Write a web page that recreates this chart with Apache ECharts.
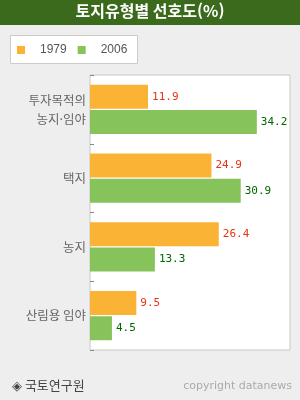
<!DOCTYPE html>
<html lang="ko">
<head>
  <meta charset="UTF-8">
  <title>토지유형별 선호도</title>
  <script src="https://cdn.jsdelivr.net/npm/echarts@6/dist/echarts.min.js"></script>
  <style>
    html, body { margin: 0; padding: 0; background: #eeeeee; }
  </style>
</head>
<body>
<div id="main" style="width: 300px;height:400px;"></div>
<script type="text/javascript">

var categories = ['투자목적의\n농지·임야', '택지', '농지', '산림용 임야'];
var data1979 = [11.9, 24.9, 26.4, 9.5];
var data2006 = [34.2, 30.9, 13.3, 4.5];

var myChart = echarts.init(document.getElementById('main'));

var font = '"Noto Sans CJK KR", sans-serif';

var option = {
  backgroundColor: '#eeeeee',
  animation: false,
  graphic: [
    { type: 'rect', left: 0, top: 0, shape: { width: 300, height: 25 }, style: { fill: '#3c6a1c' } },
    { type: 'text', left: 'center', top: 3, style: { text: '토지유형별 선호도(%)', fill: '#fff', font: 'bold 16px ' + font } },
    { type: 'rect', left: 10, top: 35, shape: { width: 127, height: 28 }, style: { fill: '#fff', stroke: '#cccccc', lineWidth: 1 } },
    { type: 'text', left: 12, top: 379, style: { text: '◈ 국토연구원', fill: '#444', font: '13px ' + font } },
    { type: 'text', right: 8, top: 381, style: { text: 'copyright datanews', fill: '#aaaaaa', font: '11px "DejaVu Sans", sans-serif' } }
  ],
  legend: {
    left: 12, top: 39,
    icon: 'rect',
    itemWidth: 8, itemHeight: 8,
    itemGap: 11,
    textStyle: { color: '#555', fontSize: 12, fontFamily: '"Liberation Sans Narrow", "Liberation Sans", sans-serif', padding: [0, 0, 0, 10] },
    data: ['1979', '2006']
  },
  grid: {
    left: 90, right: 10, top: 75, bottom: 50,
    show: true, backgroundColor: '#fff', borderColor: '#c8c8c8', borderWidth: 1
  },
  xAxis: {
    type: 'value', min: 0, max: 41,
    show: false
  },
  yAxis: {
    type: 'category',
    data: categories,
    inverse: true,
    axisLine: { show: false },
    axisTick: { show: true, inside: true, length: 4, lineStyle: { color: '#888' } },
    axisLabel: { color: '#666', fontSize: 12.5, fontFamily: font, lineHeight: 19, margin: 4 }
  },
  series: [
    {
      name: '1979', type: 'bar', data: data1979,
      barWidth: 24, barGap: '5%',
      itemStyle: { color: '#fbb336' },
      label: { show: true, position: 'right', distance: 4, color: '#e63312', fontSize: 11, fontFamily: '"DejaVu Sans Mono", monospace' }
    },
    {
      name: '2006', type: 'bar', data: data2006,
      barWidth: 24,
      itemStyle: { color: '#86c35a' },
      label: { show: true, position: 'right', distance: 4, color: '#006600', fontSize: 11, fontFamily: '"DejaVu Sans Mono", monospace' }
    }
  ]
};

myChart.setOption(option);

</script>
</body>
</html>
